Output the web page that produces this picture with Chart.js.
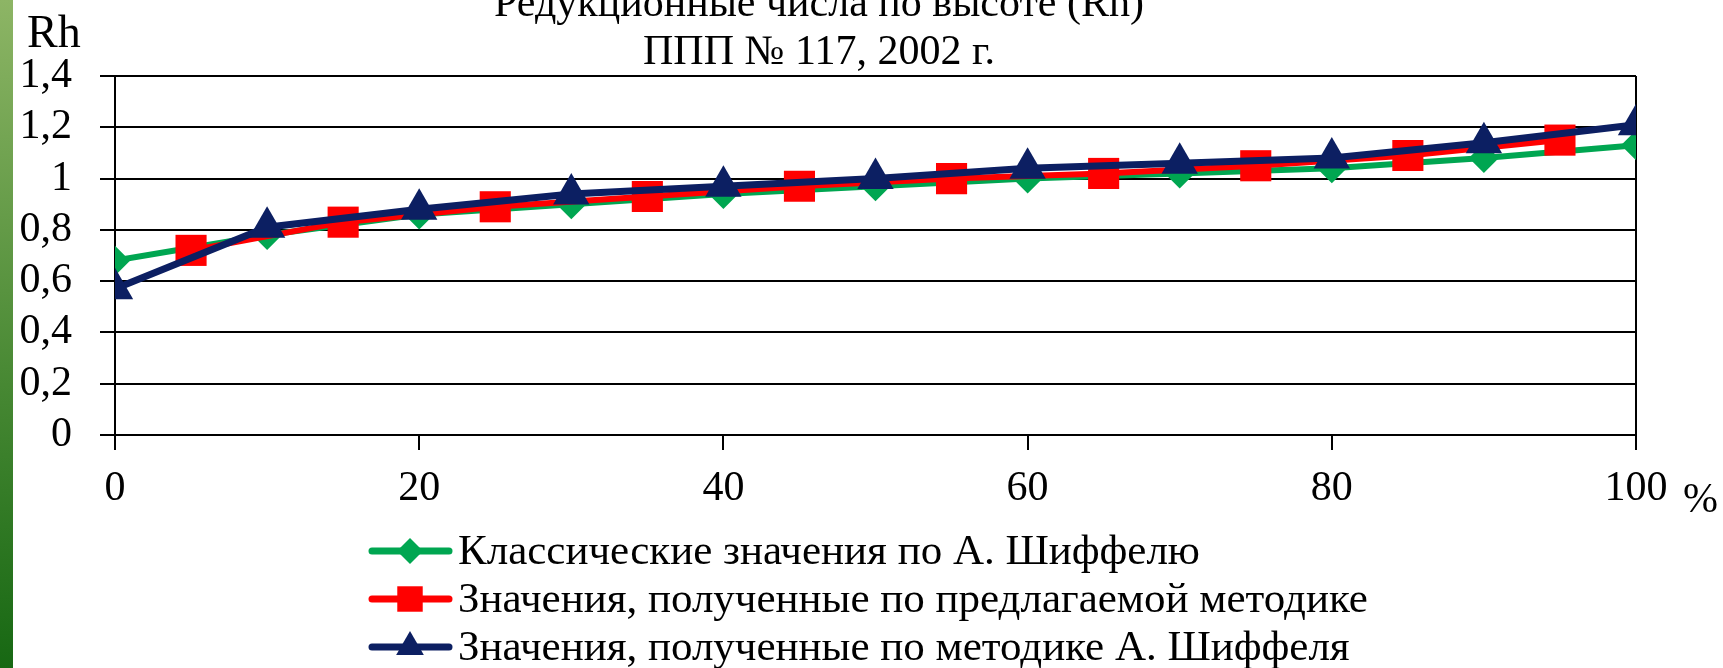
<!DOCTYPE html>
<html>
<head>
<meta charset="utf-8">
<script src="https://cdn.jsdelivr.net/npm/chart.js"></script>
<style>
  html, body { margin: 0; padding: 0; background: #fff; }
  #wrap { position: relative; width: 1723px; height: 668px; overflow: hidden; }
  #strip { position: absolute; left: 0; top: 0; width: 13px; height: 668px;
           background: linear-gradient(#8db565, #4a8a35 55%, #176813); }
  #rhChart { position: absolute; left: 0; top: 0; }
</style>
</head>
<body>
<div id="wrap">
  <div id="strip"></div>
  <canvas id="rhChart" width="1723" height="668"></canvas>
</div>
<script>
// heights in % of tree height
const stepsMain = [0, 10, 20, 30, 40, 50, 60, 70, 80, 90, 100];
const stepsShifted = [5, 15, 25, 35, 45, 55, 65, 75, 85, 95];

const classicValues = [0.68, 0.78, 0.86, 0.90, 0.94, 0.97, 1.00, 1.02, 1.04, 1.08, 1.13];
const proposedValues = [0.72, 0.83, 0.89, 0.93, 0.97, 1.00, 1.02, 1.05, 1.09, 1.15];
const schiffelValues = [0.57, 0.81, 0.88, 0.94, 0.97, 1.00, 1.04, 1.06, 1.08, 1.14, 1.21];

const seriesNames = [
    'Классические значения по А. Шиффелю',
    'Значения, полученные по предлагаемой методике',
    'Значения, полученные по методике А. Шиффеля'
];
const titleLines = ['Редукционные числа по высоте (Rh)', 'ППП № 117, 2002 г.'];
const yTitle = 'Rh';
const xUnit = '%';

const FONT = '"Liberation Serif", "Times New Roman", serif';

function toPoints(xs, ys) {
    return xs.map((x, i) => ({ x: x, y: ys[i] }));
}

// title, axis captions and the legend (line + marker) drawn over the chart
const overlayPlugin = {
    id: 'overlay',
    afterDraw(chart) {
        const ctx = chart.ctx;
        ctx.save();
        ctx.fillStyle = '#000';
        ctx.textBaseline = 'alphabetic';
        ctx.textAlign = 'center';
        ctx.font = '42px ' + FONT;
        titleLines.forEach((t, i) => ctx.fillText(t, 819, 16 + i * 48));

        ctx.textAlign = 'left';
        ctx.font = '46px ' + FONT;
        ctx.fillText(yTitle, 27, 47);

        ctx.font = '42px ' + FONT;
        ctx.fillText(xUnit, chart.scales.x.getPixelForValue(100) + 47, 512);

        const legendR = [13, 18, 16];
        chart.data.datasets.forEach((ds, i) => {
            const y = 551 + i * 48;
            ctx.strokeStyle = ds.borderColor;
            ctx.lineWidth = 7;
            ctx.lineCap = 'round';
            ctx.beginPath();
            ctx.moveTo(372, y);
            ctx.lineTo(449, y);
            ctx.stroke();
            ctx.fillStyle = ds.borderColor;
            Chart.helpers.drawPoint(ctx, {
                pointStyle: ds.pointStyle, radius: legendR[i], rotation: 0, borderWidth: 0
            }, 410, y);
            ctx.fillStyle = '#000';
            ctx.textBaseline = 'middle';
            ctx.font = '43px ' + FONT;
            ctx.fillText(ds.label, 458, y + 2);
        });
        ctx.restore();
    }
};

const ctx = document.getElementById('rhChart').getContext('2d');
new Chart(ctx, {
    type: 'line',
    data: {
        datasets: [
            {
                label: seriesNames[0],
                data: toPoints(stepsMain, classicValues),
                borderColor: '#00a651',
                backgroundColor: '#00a651',
                borderWidth: 6,
                pointStyle: 'rectRot',
                pointRadius: 15,
                pointBorderWidth: 0,
                order: 3
            },
            {
                label: seriesNames[1],
                data: toPoints(stepsShifted, proposedValues),
                borderColor: '#ff0000',
                backgroundColor: '#ff0000',
                borderWidth: 6,
                pointStyle: 'rect',
                pointRadius: 22,
                pointBorderWidth: 0,
                order: 2
            },
            {
                label: seriesNames[2],
                data: toPoints(stepsMain, schiffelValues),
                borderColor: '#0c1f62',
                backgroundColor: '#0c1f62',
                borderWidth: 7,
                pointStyle: 'triangle',
                pointRadius: 21,
                pointBorderWidth: 0,
                order: 1
            }
        ]
    },
    options: {
        responsive: false,
        animation: false,
        layout: { padding: { top: 76, right: 87, bottom: 0, left: 0 } },
        plugins: {
            legend: { display: false },
            title: { display: false },
            tooltip: { enabled: false }
        },
        scales: {
            x: {
                type: 'linear',
                min: 0,
                max: 100,
                afterFit: scale => { scale.height = 233; },
                ticks: {
                    stepSize: 20,
                    autoSkip: false,
                    maxRotation: 0,
                    color: '#000',
                    padding: 14,
                    font: { family: FONT, size: 42 }
                },
                grid: {
                    color: c => (c.tick && c.tick.value === 100 ? '#000' : 'rgba(0,0,0,0)'),
                    tickColor: '#000',
                    lineWidth: 2,
                    tickLength: 15
                },
                border: { display: true, color: '#000', width: 2 }
            },
            y: {
                min: 0,
                max: 1.4,
                afterFit: scale => { scale.width = 115; },
                ticks: {
                    stepSize: 0.2,
                    autoSkip: false,
                    color: '#000',
                    padding: 28,
                    font: { family: FONT, size: 42 },
                    callback: v => String(Math.round(v * 10) / 10).replace('.', ',')
                },
                grid: {
                    color: '#000',
                    lineWidth: 2,
                    tickLength: 15
                },
                border: { display: true, color: '#000', width: 2 }
            }
        }
    },
    plugins: [overlayPlugin]
});
</script>
</body>
</html>
